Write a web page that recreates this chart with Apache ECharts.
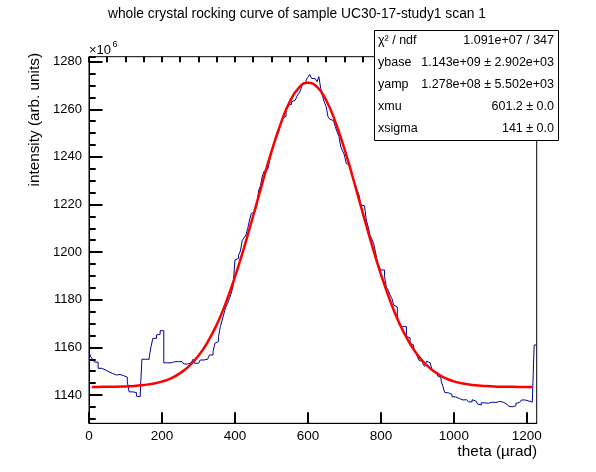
<!DOCTYPE html>
<html>
<head>
<meta charset="utf-8">
<title>whole crystal rocking curve</title>
<script src="https://cdn.jsdelivr.net/npm/echarts@6/dist/echarts.min.js"></script>
<style>
html, body { margin: 0; padding: 0; background: #fff; }
#chart { width: 596px; height: 472px; }
</style>
</head>
<body>
<div id="chart"></div>
<script>
// histogram: left edge of first bin, bin width (µrad), contents in units of 1e6
var binStart = 0;
var binWidth = 5;
var counts = [
    1158, 1156, 1155, 1153.8, 1153.8, 1151.2, 1151.2, 1151, 1150.5, 1149.7,
    1149.7, 1149, 1149, 1148.4, 1148.4, 1148.6, 1148.6, 1148.6, 1148.1, 1148.1,
    1147.5, 1145.6, 1141.3, 1141.3, 1141, 1141, 1139.5, 1139.2, 1139.2, 1155,
    1155, 1155, 1155, 1156, 1160.3, 1163.8, 1163.8, 1165.2, 1165.5, 1167,
    1167, 1153.5, 1153.5, 1153.5, 1153.5, 1153.5, 1154, 1154, 1154, 1154,
    1154, 1153.5, 1153, 1153, 1153, 1153.5, 1153.5, 1155, 1153.3, 1153.3,
    1154, 1154.7, 1154.7, 1155, 1155, 1155.5, 1156.8, 1156.8, 1158.2, 1161.7,
    1162.5, 1164.5, 1168.7, 1171.5, 1174.3, 1177, 1178.5, 1180.6, 1182.7, 1186,
    1196.7, 1197.4, 1198.8, 1200.5, 1205, 1206, 1207.2, 1210, 1213.5, 1216.3,
    1217, 1217.7, 1219.5, 1226, 1228, 1232, 1234, 1234.8, 1235, 1238.5,
    1241.5, 1244.3, 1247.1, 1248.5, 1250.6, 1254.1, 1256.2, 1257, 1259, 1261.8,
    1262, 1263.2, 1263.8, 1264.6, 1265.5, 1266.7, 1268.1, 1270.9, 1271, 1272.3,
    1273.5, 1274.7, 1273, 1272.9, 1272.5, 1271.6, 1273.7, 1268.8, 1265.5, 1263,
    1261.1, 1256.9, 1255.8, 1255.3, 1255, 1252.7, 1250.5, 1248.5, 1244.3, 1242.5,
    1240.8, 1237.3, 1236.5, 1235.2, 1232.4, 1230.3, 1228.2, 1226, 1224, 1219.8,
    1219.5, 1219.1, 1213.5, 1210.7, 1207.2, 1205.5, 1203.7, 1200.2, 1196, 1194,
    1192.5, 1192.5, 1189.7, 1185.3, 1184, 1182, 1180.6, 1177.8, 1177, 1173,
    1169.5, 1168.7, 1168.7, 1168.7, 1164.5, 1164, 1161.7, 1161, 1159.6, 1158,
    1156.1, 1154.5, 1154, 1153, 1152, 1154.2, 1153.5, 1153, 1150.5, 1149.5,
    1149.1, 1148, 1147.3, 1146, 1143.5, 1141, 1140.9, 1140.2, 1140.2, 1139.2,
    1139.2, 1139.2, 1138.5, 1137.9, 1137.9, 1138, 1138, 1138, 1137.1, 1137.1,
    1138, 1137.5, 1137, 1136.2, 1135.8, 1136.7, 1136.7, 1136.5, 1136.5, 1137.1,
    1137, 1136.7, 1136.8, 1137, 1137.3, 1137.5, 1137, 1137, 1136.2, 1136,
    1135.3, 1135, 1134.8, 1135.5, 1136.5, 1136.8, 1137, 1137.9, 1137.9, 1137.5,
    1137.5, 1137, 1137, 1136.7, 1161
];

// fitted curve
var fitX = [8, 25, 50, 75, 100, 125, 150, 175, 200, 225, 250, 275, 300, 325, 350, 375, 400, 425, 450, 475,
    500, 525, 550, 575, 600, 625, 650, 675, 700, 725, 750, 775, 800, 825, 850, 875, 900, 925, 950, 975,
    1000, 1025, 1050, 1075, 1100, 1125, 1150, 1175, 1200, 1215];
var fitY = [1143.4, 1143.4, 1143.5, 1143.5, 1143.6, 1143.8, 1144.2, 1144.7, 1145.6, 1147.0, 1149.2, 1152.2, 1156.5, 1162.2, 1169.5, 1178.7, 1189.6, 1201.9, 1215.3, 1229.0,
    1242.2, 1253.8, 1263.1, 1269.0, 1271.2, 1269.4, 1263.8, 1254.8, 1243.4, 1230.3, 1216.6, 1203.2, 1190.7, 1179.7, 1170.3, 1162.8, 1156.9, 1152.6, 1149.4, 1147.2,
    1145.7, 1144.8, 1144.2, 1143.9, 1143.7, 1143.5, 1143.5, 1143.4, 1143.4, 1143.4];

// axis ticks: major / minor steps and the first tick on each
var xTickMajor = 200, xTickMinor = 50;
var yTickMajor = 20, yTickMinor = 5;
var yFirstMajor = 1140, yFirstMinor = 1130;

var statNames = ['χ² / ndf', 'ybase', 'yamp', 'xmu', 'xsigma'];
var statValues = ['1.091e+07 / 347', '1.143e+09 ± 2.902e+03', '1.278e+08 ± 5.502e+03', '601.2 ± 0.0', '141 ± 0.0'];

var FONT = 'Liberation Sans, Arial, Helvetica, sans-serif';
var X_MIN = 0, X_MAX = 1227;
var Y_MIN = 1128.1, Y_MAX = 1282.1;
var TICK_W = 2;

// frame in pixels
var W = 596, H = 472;
var frameL = 89, frameR = 536.7, frameT = 56.7, frameB = 423.3;
var yScale = (frameB - frameT) / (Y_MAX - Y_MIN);
// helper grids for the y ticks: same scale, bottom edge at the first tick
function helperBottom(v) {
    return H - (frameT + (Y_MAX - v) * yScale);
}

var histData = [];
for (var i = 0; i < counts.length; i++) {
    histData.push([binStart + i * binWidth, counts[i]]);
}
histData.push([binStart + counts.length * binWidth, counts[counts.length - 1]]);

var fitData = [];
for (var j = 0; j < fitX.length; j++) {
    fitData.push([fitX[j], fitY[j]]);
}

function txt(x, y, text, size, align, vAlign, rotation) {
    return {
        type: 'text',
        x: x,
        y: y,
        rotation: rotation || 0,
        silent: true,
        z: 100,
        style: {
            text: text,
            font: size + 'px ' + FONT,
            fill: '#000',
            textAlign: align, align: align,
            textVerticalAlign: vAlign, verticalAlign: vAlign
        }
    };
}

// stats box
var boxL = 374, boxT = 30, boxW = 184, boxH = 110;
var graphics = [
    txt(297, 14, 'whole crystal rocking curve of sample UC30-17-study1 scan 1', 13.8, 'center', 'middle'),
    txt(35, 53, 'intensity (arb. units)', 15.3, 'right', 'middle', Math.PI / 2),
    txt(537, 452, 'theta (µrad)', 15.3, 'right', 'middle'),
    txt(89, 50, '×10', 13, 'left', 'middle'),
    txt(112.5, 45, '6', 9, 'left', 'middle'),
    {
        type: 'rect',
        silent: true,
        z: 90,
        shape: {x: boxL + 0.5, y: boxT + 0.5, width: boxW, height: boxH},
        style: {fill: '#fff', stroke: '#000', lineWidth: 1}
    }
];
var rowH = boxH / statNames.length;
for (var k = 0; k < statNames.length; k++) {
    var cy = boxT + rowH * (k + 0.5);
    graphics.push(txt(boxL + 4, cy, statNames[k], 12.5, 'left', 'middle'));
    graphics.push(txt(boxL + boxW - 4, cy, statValues[k], 12.5, 'right', 'middle'));
}

function plain(v) {
    return String(v);
}

function tickAxis(dim, gridIndex, min, max, interval, len, withLabels) {
    var ax = {
        type: 'value',
        gridIndex: gridIndex,
        min: min,
        max: max,
        interval: interval,
        axisLine: {show: false},
        axisTick: {show: true, inside: true, length: len, lineStyle: {color: '#000', width: TICK_W}},
        axisLabel: {show: false},
        splitLine: {show: false}
    };
    if (withLabels) {
        ax.axisLabel = {
            show: true,
            showMaxLabel: false,
            formatter: plain,
            margin: dim === 'x' ? 6 : 7,
            color: '#000',
            fontSize: dim === 'x' ? 13.5 : 13,
            fontFamily: FONT
        };
    }
    return ax;
}

var hiddenX = function (gridIndex) {
    return {
        type: 'value', gridIndex: gridIndex, min: X_MIN, max: X_MAX,
        axisLine: {show: false}, axisTick: {show: false}, axisLabel: {show: false}, splitLine: {show: false}
    };
};

var chart = echarts.init(document.getElementById('chart'));
var option = {
    animation: false,
    grid: [{
        left: frameL,
        right: W - frameR,
        top: frameT,
        bottom: H - frameB,
        show: true,
        borderColor: '#000',
        borderWidth: 1
    }, {
        left: frameL,
        right: W - frameR,
        top: frameT,
        bottom: helperBottom(yFirstMajor)
    }, {
        left: frameL,
        right: W - frameR,
        top: frameT,
        bottom: helperBottom(yFirstMinor)
    }],
    xAxis: [
        tickAxis('x', 0, X_MIN, X_MAX, xTickMajor, 11, true),
        tickAxis('x', 0, X_MIN, X_MAX, xTickMinor, 5.5, false),
        hiddenX(1),
        hiddenX(2)
    ],
    yAxis: [{
        type: 'value',
        gridIndex: 0,
        min: Y_MIN,
        max: Y_MAX,
        axisLine: {show: true, lineStyle: {color: '#000', width: 1}},
        axisTick: {show: false},
        axisLabel: {show: false},
        splitLine: {show: false}
    },
        tickAxis('y', 1, yFirstMajor, Y_MAX, yTickMajor, 13.5, true),
        tickAxis('y', 2, yFirstMinor, Y_MAX, yTickMinor, 6.7, false)
    ],
    series: [{
        name: 'hist',
        type: 'line',
        step: 'end',
        xAxisIndex: 0,
        yAxisIndex: 0,
        data: histData,
        showSymbol: false,
        symbol: 'none',
        lineStyle: {color: '#000099', width: 1}
    }, {
        name: 'fit',
        type: 'line',
        xAxisIndex: 0,
        yAxisIndex: 0,
        data: fitData,
        smooth: true,
        showSymbol: false,
        symbol: 'none',
        lineStyle: {color: '#ff0000', width: 2.5}
    }],
    graphic: graphics
};
// main x axis also carries the axis line
option.xAxis[0].axisLine = {show: true, lineStyle: {color: '#000', width: 1}};
chart.setOption(option);
</script>
</body>
</html>
